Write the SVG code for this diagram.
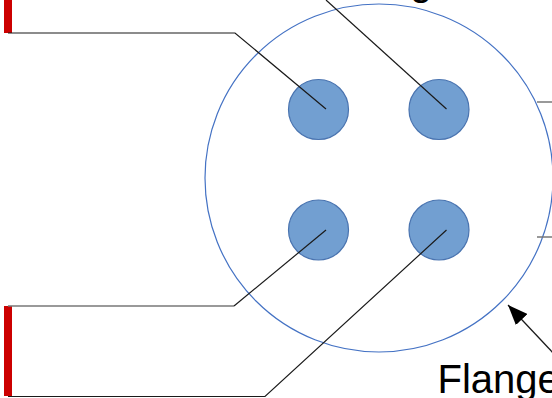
<svg xmlns="http://www.w3.org/2000/svg" width="552" height="398" viewBox="0 0 552 398">
<style>
.bolt{fill:#729FD1;stroke:#4A74B0;stroke-width:1.2}
.flange{fill:none;stroke:#4472C4;stroke-width:1.2}
.lead{fill:none;stroke:#1a1a1a;stroke-width:1.2}
.gray{fill:none;stroke:#777;stroke-width:1.5}
.bar{fill:#CC0000}
.lbl{font-family:"Liberation Sans",Arial,sans-serif;font-size:40px;fill:#000}
</style>
<defs>
<marker id="ah" viewBox="0 0 10 10" refX="9" refY="5" markerWidth="10" markerHeight="10" markerUnits="userSpaceOnUse" orient="auto">
<path d="M0,0 L10,5 L0,10 Z" fill="#000"/>
</marker>
<marker id="ahbig" viewBox="0 0 20 16" refX="20" refY="8" markerWidth="20" markerHeight="16" markerUnits="userSpaceOnUse" orient="auto">
<path d="M0,0 L20,8 L0,16 Z" fill="#000"/>
</marker>
</defs>
<g id="flange">
<circle class="flange" cx="379" cy="178" r="174"/>
</g>
<g id="bolt-tl"><circle class="bolt" cx="318.5" cy="109.5" r="30"/></g>
<g id="bolt-tr"><circle class="bolt" cx="439" cy="109.5" r="30"/></g>
<g id="bolt-bl"><circle class="bolt" cx="318.5" cy="230" r="30"/></g>
<g id="bolt-br"><circle class="bolt" cx="439" cy="230" r="30"/></g>
<g id="bar-top"><rect class="bar" x="4" y="0" width="8" height="33"/></g>
<g id="bar-bottom"><rect class="bar" x="4" y="306" width="8" height="90"/></g>
<g id="connectors">
<polyline class="lead" points="8,33 235,33 326,109"/>
<line class="lead" x1="326" y1="0" x2="446.5" y2="109"/>
<polyline class="gray" points="8,306 234,306"/>
<line class="lead" x1="234" y1="306" x2="326" y2="230"/>
<polyline class="lead" points="8,396.5 265,396.5 446.5,230"/>
<line class="gray" x1="537" y1="102" x2="552" y2="102"/>
<line class="gray" x1="537" y1="237" x2="552" y2="237"/>
<line class="lead" x1="556" y1="356" x2="508" y2="305" marker-end="url(#ahbig)"/>
</g>
<g id="labels">
<text class="lbl" x="410" y="-5">g</text>
<text class="lbl" x="437.5" y="393">Flange</text>
</g>
</svg>
